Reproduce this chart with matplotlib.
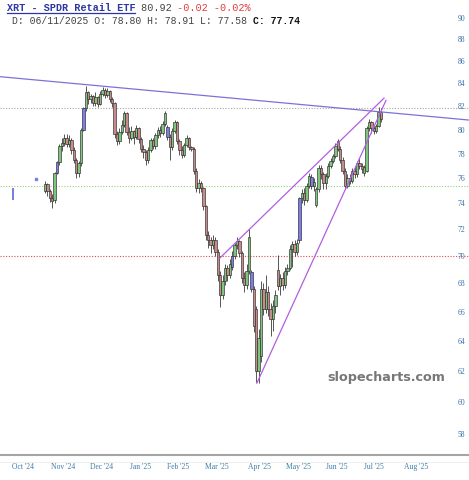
import matplotlib
matplotlib.use('Agg')
import numpy as np
import matplotlib.pyplot as plt
from matplotlib.lines import Line2D
from matplotlib.ticker import NullLocator

# daily candles, oldest first
opens = [75.0, 75.5, 75.0, 74.4, 74.3, 76.4, 77.3, 78.6, 78.9, 79.3,
         78.8, 79.1, 78.3, 77.5, 76.4, 77.2, 80.0, 81.8, 83.2, 82.6,
         82.9, 82.3, 82.8, 82.2, 83.1, 83.4, 83.0, 83.3, 82.6, 82.3,
         79.6, 79.0, 79.8, 80.4, 81.4, 79.8, 79.3, 79.9, 79.4, 80.1,
         79.2, 78.4, 78.1, 77.5, 78.3, 79.1, 78.6, 79.5, 80.0, 79.7,
         80.5, 80.2, 79.4, 78.5, 79.9, 80.6, 79.0, 78.3, 77.9, 78.7,
         79.3, 78.5, 78.4, 76.6, 75.2, 75.6, 75.2, 73.8, 71.6, 71.2,
         70.8, 71.2, 70.3, 68.6, 67.2, 68.2, 69.1, 68.6, 69.2, 70.0,
         70.8, 71.1, 70.2, 68.4, 67.9, 68.9, 68.8, 67.6, 66.2, 62.0,
         63.0, 67.6, 66.2, 67.4, 66.2, 65.5, 66.4, 69.0, 67.8, 68.4,
         67.9, 68.9, 69.1, 70.5, 70.9, 70.3, 71.2, 74.4, 74.8, 74.3,
         75.4, 76.1, 75.4, 73.9, 75.1, 76.8, 76.3, 75.6, 76.2, 77.0,
         77.4, 77.8, 79.0, 78.4, 77.5, 76.6, 75.4, 76.0, 75.8, 76.6,
         76.3, 77.2, 77.0, 76.4, 76.6, 80.1, 80.6, 80.1, 79.9, 80.3,
         81.5]
highs = [75.8, 75.6, 75.1, 74.7, 76.5, 77.4, 78.8, 79.3, 79.6, 79.6,
         79.5, 79.3, 78.5, 77.6, 77.4, 80.1, 81.9, 83.8, 83.3, 83.1,
         83.0, 83.2, 82.9, 83.3, 83.7, 83.6, 83.6, 83.4, 82.8, 82.4,
         79.9, 80.1, 80.8, 81.6, 81.5, 80.2, 80.3, 80.0, 80.4, 80.2,
         79.4, 78.7, 78.3, 78.5, 79.3, 79.3, 79.7, 80.2, 80.3, 80.7,
         81.6, 80.4, 79.6, 80.1, 80.8, 80.7, 79.2, 78.6, 78.9, 79.5,
         79.4, 78.6, 78.5, 76.8, 75.9, 75.8, 75.3, 73.9, 71.9, 71.4,
         71.6, 71.4, 70.5, 68.9, 68.6, 69.4, 69.3, 69.8, 70.4, 71.0,
         71.4, 71.2, 70.4, 68.8, 69.4, 72.0, 69.0, 67.8, 66.4, 64.8,
         68.2, 68.0, 68.6, 67.8, 66.6, 66.8, 67.5, 70.1, 68.7, 68.8,
         69.2, 69.4, 70.8, 71.1, 71.2, 71.3, 74.5, 75.1, 75.2, 75.6,
         76.4, 76.3, 76.0, 75.3, 77.1, 77.1, 76.5, 76.4, 77.2, 77.6,
         78.0, 78.9, 79.2, 78.6, 77.7, 76.8, 76.3, 76.3, 76.8, 76.9,
         77.4, 77.6, 77.2, 77.1, 80.3, 80.9, 80.7, 80.3, 80.5, 81.9,
         81.8]
lows = [74.8, 74.6, 74.1, 73.6, 74.0, 76.3, 77.1, 78.2, 78.6, 78.5,
        78.5, 78.0, 77.2, 76.0, 76.1, 77.0, 79.9, 81.6, 82.2, 82.3,
        82.0, 82.0, 81.9, 82.1, 82.9, 82.7, 82.8, 82.4, 81.9, 79.3,
        78.7, 78.8, 79.6, 80.2, 79.5, 78.9, 79.1, 78.8, 79.2, 78.9,
        78.1, 77.6, 77.1, 77.2, 78.1, 78.4, 78.4, 79.3, 79.4, 79.5,
        80.3, 79.1, 77.5, 78.3, 79.7, 78.8, 77.9, 77.6, 77.7, 78.5,
        78.3, 78.2, 76.3, 74.9, 74.8, 74.9, 73.5, 71.2, 70.6, 70.2,
        70.5, 70.0, 68.2, 66.3, 66.9, 67.9, 68.2, 68.4, 69.0, 69.8,
        70.5, 69.9, 68.0, 67.4, 67.6, 68.7, 67.4, 64.6, 61.3, 61.2,
        62.6, 65.8, 65.9, 65.7, 64.3, 64.7, 65.9, 67.5, 67.2, 67.5,
        67.7, 68.6, 69.0, 69.2, 70.0, 70.1, 71.0, 74.0, 73.9, 74.1,
        75.2, 75.1, 75.0, 73.7, 74.9, 75.9, 75.1, 75.1, 76.0, 76.8,
        77.2, 77.6, 78.2, 77.2, 76.3, 75.1, 75.2, 75.5, 75.6, 76.0,
        76.1, 76.7, 76.4, 76.2, 76.5, 79.9, 79.7, 79.6, 79.7, 80.2,
        80.6]
closes = [75.5, 75.0, 74.4, 74.2, 76.4, 77.3, 78.6, 78.9, 79.3, 78.8,
          79.1, 78.3, 77.5, 76.4, 77.2, 80.0, 81.8, 83.2, 82.6, 82.9,
          82.3, 82.8, 82.2, 83.1, 83.4, 83.0, 83.3, 82.6, 82.3, 79.6,
          79.0, 79.8, 80.4, 81.4, 79.8, 79.3, 79.9, 79.4, 80.1, 79.2,
          78.4, 78.1, 77.5, 78.3, 79.1, 78.6, 79.5, 80.0, 79.7, 80.5,
          81.4, 79.4, 78.5, 79.9, 80.6, 79.0, 78.3, 77.9, 78.7, 79.3,
          78.5, 78.4, 76.6, 75.2, 75.6, 75.2, 73.8, 71.6, 71.2, 70.8,
          71.2, 70.3, 68.6, 67.2, 68.2, 69.1, 68.6, 69.4, 70.0, 70.8,
          71.1, 70.2, 68.4, 67.9, 68.9, 71.4, 67.6, 65.0, 62.0, 64.2,
          67.6, 66.2, 67.4, 66.2, 65.5, 66.4, 67.2, 67.8, 68.4, 67.9,
          68.9, 69.1, 70.5, 70.9, 70.3, 71.0, 74.4, 74.8, 74.3, 75.4,
          76.2, 75.4, 75.7, 75.1, 76.8, 76.3, 75.6, 76.2, 77.0, 77.4,
          77.8, 78.6, 78.4, 77.5, 76.6, 75.4, 76.0, 75.8, 76.6, 76.3,
          77.2, 77.0, 76.7, 76.9, 80.1, 80.6, 80.1, 79.9, 80.3, 81.5,
          80.9]
gap_days = [5, 16, 51, 78, 86, 106, 111]

# stray marks left of the series
stray_bar_x, stray_bar_lo, stray_bar_hi = -13.3, 74.3, 75.2
stray_dot_x, stray_dot_y = -3.75, 75.9

# trend lines (day index, price)
resist_x, resist_y = [-19, 177], [84.6, 80.8]
upper_x, upper_y = [72.9, 141.3], [69.85, 82.7]
lower_x, lower_y = [88.3, 142.1], [61.2, 82.5]
levels = [81.84, 75.36, 70.0]
level_colors = ['#a8a8a8', '#8fd47f', '#e04a4a']

month_pos = [-9.2, 7.5, 23.75, 39.6, 55.4, 71.7, 89.2, 105.8, 121.7, 137.1, 154.6]
month_labels = ["Oct '24", "Nov '24", "Dec '24", "Jan '25", "Feb '25", "Mar '25",
                "Apr '25", "May '25", "Jun '25", "Jul '25", "Aug '25"]
price_ticks = list(range(58, 92, 2))

fig = plt.figure(figsize=(4.69, 4.80), dpi=100)
ax = fig.add_axes([0, 25 / 480, 1, 455 / 480])
ax.set_yscale('log')

o = np.array(opens)
h = np.array(highs)
l = np.array(lows)
c = np.array(closes)
x = np.arange(len(c))
colors = np.where(c >= o, '#7fc47f', '#c98a8a').astype(object)
for g in gap_days:
    colors[g] = '#7d7de3'

ax.vlines(x, l, h, color='#3a3a3a', lw=0.6, zorder=2)
body = np.maximum(np.abs(c - o), 0.08)
ax.bar(x, body, bottom=np.minimum(o, c), width=1.0, color=list(colors),
       edgecolor='#2a2a2a', linewidth=0.45, zorder=3)

ax.bar([stray_bar_x], [stray_bar_hi - stray_bar_lo], bottom=[stray_bar_lo],
       width=0.9, color='#7d7de3', zorder=3)
ax.plot([stray_dot_x], [stray_dot_y], 's', ms=2, color='#7d7de3', zorder=3)

for lv, col in zip(levels, level_colors):
    ax.axhline(lv, color=col, lw=0.8, ls=(0, (1, 1.5)), zorder=1)

ax.plot(resist_x, resist_y, color='#7a72d8', lw=0.9, zorder=4)
ax.plot(upper_x, upper_y, color='#b25ee0', lw=0.9, zorder=4)
ax.plot(lower_x, lower_y, color='#b25ee0', lw=0.9, zorder=4)

ax.set_xlim(-18.75, 176.7)
ax.set_ylim(56.73, 91.73)

ax.yaxis.set_minor_locator(NullLocator())
ax.set_yticks(price_ticks)
ax.set_yticklabels([str(t) for t in price_ticks])
ax.yaxis.tick_right()
ax.tick_params(axis='y', direction='in', length=0, pad=-8, labelsize=5.5,
               labelcolor='#3b6fa5')
for t in ax.get_yticklabels():
    t.set_fontfamily('Liberation Serif')

ax.set_xticks(month_pos)
ax.set_xticklabels(month_labels)
ax.tick_params(axis='x', length=0, pad=6, labelsize=5.5, labelcolor='#3a7fa5')
for t in ax.get_xticklabels():
    t.set_fontfamily('Liberation Serif')

for s in ['top', 'left', 'right']:
    ax.spines[s].set_visible(False)
ax.spines['bottom'].set_color('#a5a5a5')
ax.spines['bottom'].set_linewidth(1.5)
fig.add_artist(Line2D([0, 1], [1 - 462 / 480] * 2, color='#ececec', lw=0.6))

fig.text(445 / 469, 1 - 378 / 480, 'slopecharts.com', ha='right', va='center',
         fontsize=9.2, fontweight='bold', color='#777777', family='DejaVu Sans')

# header, monospace pieces placed by character count
mono = 'Liberation Mono'
fs1, fs2 = 7.3, 7.05
cw1 = 0.6 * fs1 * 100 / 72 / 469
cw2 = 0.6 * fs2 * 100 / 72 / 469
x0 = 7 / 469
y1 = 1 - 11 / 480
y2 = 1 - 24 / 480
name = 'XRT - SPDR Retail ETF'
fig.text(x0, y1, name, fontsize=fs1, family=mono, fontweight='bold',
         color='#2b36a3', va='baseline')
fig.add_artist(Line2D([x0, x0 + len(name) * cw1], [1 - 13 / 480] * 2,
                      color='#2b36a3', lw=0.9))
fig.text(x0 + len(name) * cw1, y1, ' 80.92', fontsize=fs1, family=mono,
         color='#444444', va='baseline')
fig.text(x0 + (len(name) + 6) * cw1, y1, ' -0.02 -0.02%', fontsize=fs1,
         family=mono, color='#e03c3c', va='baseline')
line2 = 'D: 06/11/2025 O: 78.80 H: 78.91 L: 77.58 '
x1 = 12 / 469
fig.text(x1, y2, line2, fontsize=fs2, family=mono, color='#444444', va='baseline')
fig.text(x1 + len(line2) * cw2, y2, 'C: 77.74', fontsize=fs2, family=mono,
         fontweight='bold', color='#111111', va='baseline')

fig.savefig('out.png', dpi=100)
